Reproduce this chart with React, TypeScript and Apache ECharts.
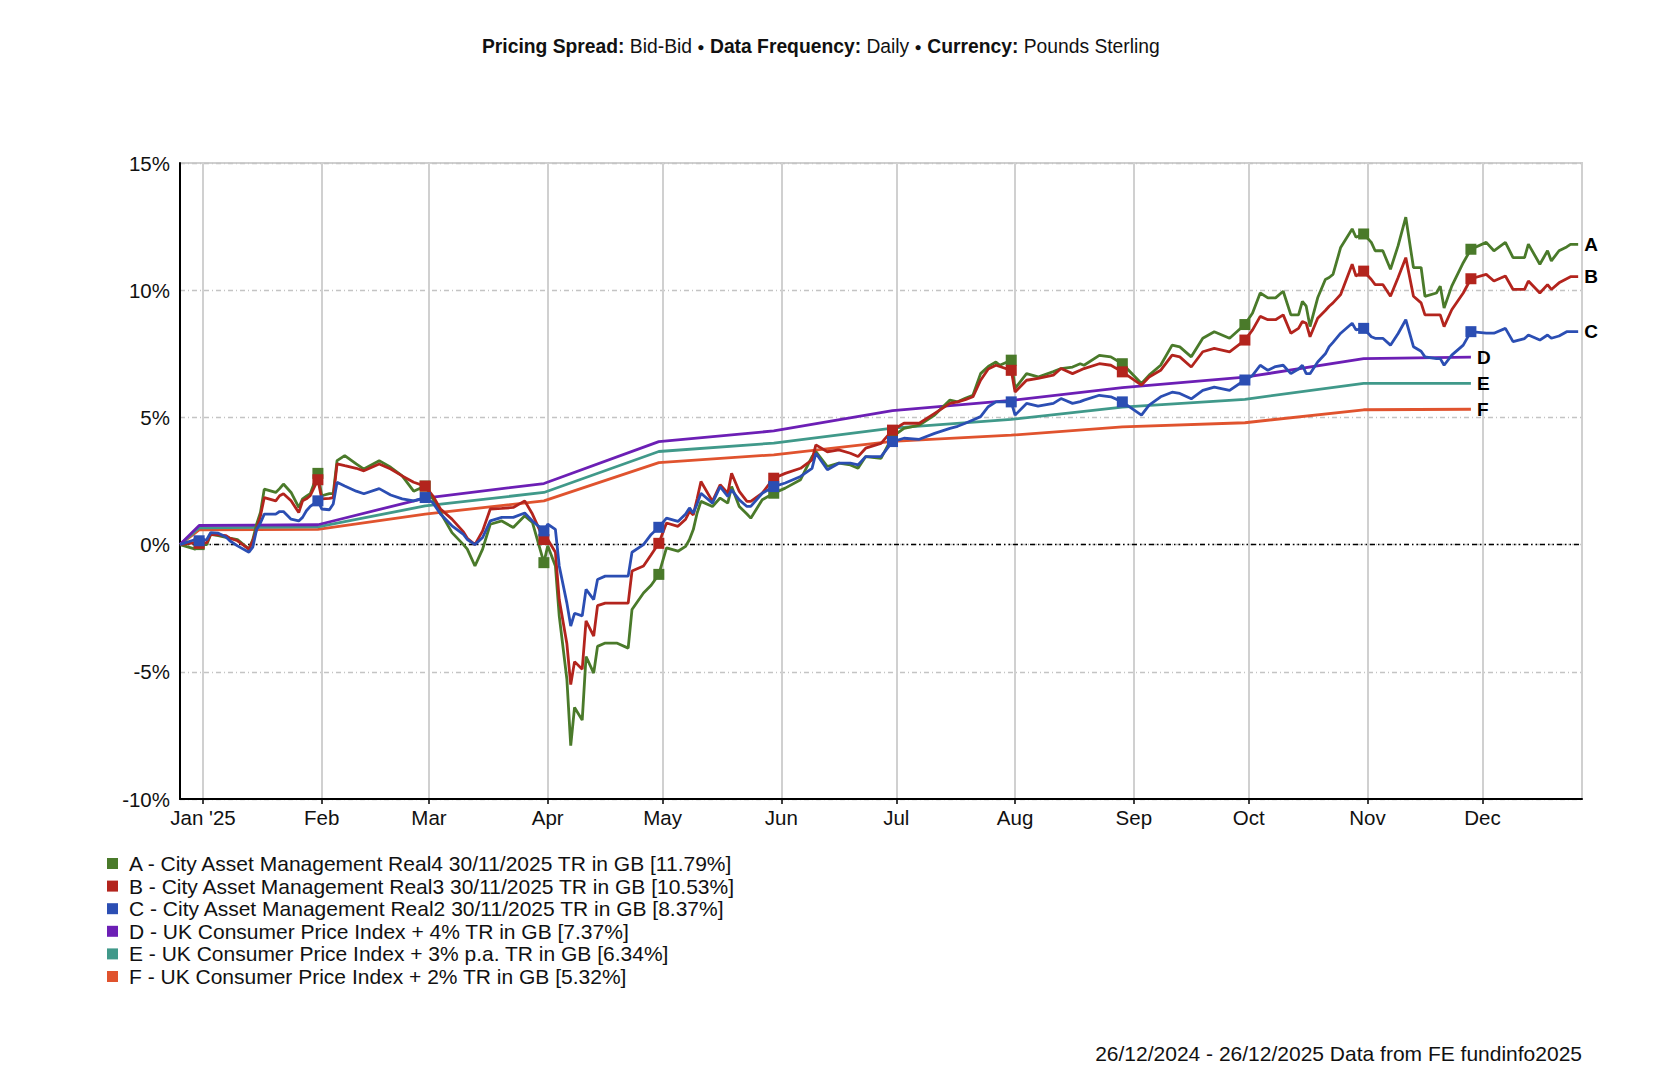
import React, { useEffect, useRef } from "react";
import * as echarts from "echarts";

const FONT = "'Liberation Sans', Arial, Helvetica, sans-serif";

const seriesNames = [
  "A - City Asset Management Real4 30/11/2025 TR in GB [11.79%]",
  "B - City Asset Management Real3 30/11/2025 TR in GB [10.53%]",
  "C - City Asset Management Real2 30/11/2025 TR in GB [8.37%]",
  "D - UK Consumer Price Index + 4% TR in GB [7.37%]",
  "E - UK Consumer Price Index + 3% p.a. TR in GB [6.34%]",
  "F - UK Consumer Price Index + 2% TR in GB [5.32%]",
];
const seriesLetters = ["A", "B", "C", "D", "E", "F"];
const seriesColors = ["#4a7a2a", "#b3241d", "#2b4eb3", "#6c1fb5", "#40998a", "#e0532e"];

const monthLabels = ["Jan '25", "Feb", "Mar", "Apr", "May", "Jun", "Jul", "Aug", "Sep", "Oct", "Nov", "Dec"];

const fundDates = [
  "2024-12-26", "2024-12-30", "2024-12-31", "2025-01-02", "2025-01-03", "2025-01-05", "2025-01-07", "2025-01-08", "2025-01-10", "2025-01-13", "2025-01-14", "2025-01-15", "2025-01-16", "2025-01-17", "2025-01-20", "2025-01-21", "2025-01-22", "2025-01-24", "2025-01-26", "2025-01-27", "2025-01-28", "2025-01-29", "2025-01-31",
  "2025-02-01", "2025-02-03", "2025-02-04", "2025-02-05", "2025-02-07", "2025-02-10", "2025-02-12", "2025-02-16", "2025-02-19", "2025-02-22", "2025-02-25", "2025-02-28",
  "2025-03-02", "2025-03-04", "2025-03-07", "2025-03-10", "2025-03-11", "2025-03-13", "2025-03-15", "2025-03-17", "2025-03-20", "2025-03-23", "2025-03-26", "2025-03-28", "2025-03-31",
  "2025-04-01", "2025-04-03", "2025-04-04", "2025-04-06", "2025-04-07", "2025-04-08", "2025-04-10", "2025-04-11", "2025-04-13", "2025-04-14", "2025-04-16", "2025-04-19", "2025-04-22", "2025-04-23", "2025-04-26", "2025-04-28", "2025-04-30",
  "2025-05-02", "2025-05-05", "2025-05-07", "2025-05-08", "2025-05-09", "2025-05-10", "2025-05-11", "2025-05-14", "2025-05-16", "2025-05-18", "2025-05-19", "2025-05-21", "2025-05-23", "2025-05-24", "2025-05-27", "2025-05-30",
  "2025-06-02", "2025-06-06", "2025-06-09", "2025-06-10", "2025-06-13", "2025-06-16", "2025-06-19", "2025-06-21", "2025-06-23", "2025-06-27", "2025-06-30",
  "2025-07-03", "2025-07-07", "2025-07-11", "2025-07-15", "2025-07-17", "2025-07-19", "2025-07-21", "2025-07-23", "2025-07-25", "2025-07-27", "2025-07-28", "2025-07-31",
  "2025-08-01", "2025-08-04", "2025-08-07", "2025-08-11", "2025-08-13", "2025-08-16", "2025-08-18", "2025-08-19", "2025-08-23", "2025-08-26", "2025-08-29",
  "2025-09-03", "2025-09-05", "2025-09-08", "2025-09-11", "2025-09-13", "2025-09-16", "2025-09-19", "2025-09-22", "2025-09-26", "2025-09-30",
  "2025-10-02", "2025-10-04", "2025-10-06", "2025-10-08", "2025-10-10", "2025-10-12", "2025-10-14", "2025-10-15", "2025-10-16", "2025-10-17", "2025-10-19", "2025-10-21", "2025-10-22", "2025-10-23", "2025-10-25", "2025-10-28", "2025-10-29", "2025-10-31",
  "2025-11-02", "2025-11-03", "2025-11-05", "2025-11-07", "2025-11-09", "2025-11-11", "2025-11-13", "2025-11-15", "2025-11-16", "2025-11-19", "2025-11-20", "2025-11-21", "2025-11-23", "2025-11-26", "2025-11-28",
  "2025-12-02", "2025-12-04", "2025-12-07", "2025-12-09", "2025-12-12", "2025-12-13", "2025-12-16", "2025-12-18", "2025-12-19", "2025-12-21", "2025-12-23", "2025-12-24", "2025-12-26",
];

const fundA = [
  0, -0.18, 0.0, 0.0, 0.4, 0.35, 0.28, 0.25, 0.2, -0.18, 0.2, 0.8, 1.26, 2.18, 2.05, 2.2, 2.38, 2.05, 1.46, 1.8, 1.9, 2.0, 2.8,
  1.92, 2.0, 2.0, 3.3, 3.5, 3.17, 2.97, 3.3, 3.04, 2.7, 2.1, 2.3,
  1.8, 1.26, 0.47, 0.0, -0.18, -0.84, -0.18, 0.8, 0.93, 0.67, 1.13, 0.87, -0.71,
  -0.05, -0.84, -2.8, -5.3, -7.9, -6.4, -6.9, -4.4, -5.05, -4.0, -3.87, -3.87, -4.07, -2.55, -1.9, -1.6, -1.17,
  -0.13, -0.26, -0.07, 0.2, 0.59, 1.24, 1.7, 1.5, 1.83, 1.63, 2.28, 1.5, 1.2, 1.04, 1.76, 2.02,
  2.22, 2.55, 3.46, 3.66, 3.07, 3.2, 3.13, 3.0, 3.46, 3.39, 4.24,
  4.57, 4.7, 5.09, 5.68, 5.61, 5.75, 5.87, 6.72, 7.0, 7.18, 7.05, 7.25,
  6.14, 6.72, 6.59, 6.8, 6.92, 6.98, 7.11, 7.05, 7.44, 7.38, 7.11,
  6.33, 6.66, 7.05, 7.84, 7.77, 7.38, 8.11, 8.37, 8.11, 8.65,
  9.1, 9.89, 9.7, 9.7, 9.96, 9.03, 9.03, 9.56, 9.37, 8.57, 9.7, 10.42, 10.5, 10.62, 11.68, 12.41, 12.08, 12.21,
  11.88, 11.55, 11.55, 10.82, 11.75, 12.87, 10.89, 10.89, 9.76, 9.89, 10.16, 9.3, 10.16, 11.08, 11.61,
  11.88, 11.55, 11.88, 11.28, 11.28, 11.81, 11.02, 11.55, 11.15, 11.55, 11.7, 11.8, 11.8,
];

const fundB = [
  0, 0.08, 0.05, 0.08, 0.4, 0.38, 0.35, 0.25, 0.15, -0.18, 0.15, 0.6, 1.13, 1.85, 1.72, 1.92, 2.0, 1.72, 1.26, 1.72, 1.8, 1.92, 2.55,
  1.8, 1.82, 1.85, 3.17, 3.1, 3.0, 2.9, 3.17, 2.97, 2.7, 2.45, 2.3,
  1.92, 1.4, 1.0, 0.5, 0.25, 0.0, 0.54, 1.4, 1.42, 1.46, 1.72, 1.2, 0.2,
  0.2, -0.3, -2.16, -3.9, -5.5, -4.6, -4.9, -3.0, -3.6, -2.4, -2.3, -2.3, -2.3, -1.04, -0.84, -0.4, 0.05,
  0.85, 0.72, 1.0, 1.3, 1.17, 1.8, 2.48, 1.7, 2.35, 2.02, 2.8, 2.09, 1.7, 1.7, 2.02, 2.61,
  2.8, 3.0, 3.33, 3.92, 3.65, 3.72, 3.59, 3.46, 3.79, 3.98, 4.5,
  4.77, 4.77, 5.16, 5.55, 5.61, 5.7, 5.81, 6.46, 6.9, 7.05, 7.0, 6.85,
  6.0, 6.46, 6.53, 6.66, 6.92, 6.72, 6.85, 6.92, 7.11, 7.05, 6.79,
  6.27, 6.59, 6.85, 7.45, 7.38, 6.98, 7.58, 7.71, 7.58, 8.04,
  8.44, 8.97, 8.84, 8.84, 9.03, 8.31, 8.5, 8.77, 8.7, 8.17, 8.9, 9.2, 9.37, 9.5, 9.83, 11.02, 10.56, 10.75,
  10.42, 10.22, 10.22, 9.76, 10.5, 11.28, 9.76, 9.5, 9.03, 9.03, 9.03, 8.57, 9.23, 9.89, 10.45,
  10.62, 10.36, 10.56, 10.03, 10.03, 10.36, 9.89, 10.22, 10.03, 10.29, 10.45, 10.53, 10.53,
];

const fundC = [
  0, 0.2, 0.15, 0.2, 0.47, 0.45, 0.3, 0.15, -0.05, -0.3, -0.1, 0.6, 0.85, 1.2, 1.2, 1.3, 1.3, 1.0, 0.93, 1.07, 1.33, 1.5, 1.72,
  1.4, 1.37, 1.6, 2.45, 2.3, 2.1, 2.0, 2.2, 1.95, 1.8, 1.72, 1.85,
  1.65, 1.2, 0.74, 0.4, 0.2, 0.0, 0.28, 0.93, 1.07, 1.07, 1.24, 0.93, 0.54,
  0.8, 0.6, -0.84, -2.3, -3.2, -2.7, -2.8, -1.76, -2.16, -1.37, -1.24, -1.24, -1.24, -0.3, 0.0, 0.4, 0.68,
  1.04, 0.91, 1.2, 1.44, 1.24, 1.6, 2.02, 1.63, 2.28, 1.89, 2.15, 1.76, 1.5, 1.5, 2.02, 2.28,
  2.42, 2.68, 3.0, 3.59, 2.94, 3.2, 3.2, 3.13, 3.46, 3.46, 4.05,
  4.18, 4.14, 4.37, 4.57, 4.65, 4.77, 4.9, 5.03, 5.42, 5.61, 5.61, 5.61,
  5.09, 5.55, 5.44, 5.55, 5.74, 5.55, 5.62, 5.68, 5.87, 5.81, 5.61,
  5.09, 5.48, 5.81, 5.99, 5.94, 5.73, 6.06, 6.19, 6.06, 6.47,
  6.65, 7.05, 6.85, 7.0, 7.05, 6.72, 6.9, 7.05, 6.72, 6.72, 7.18, 7.5, 7.78, 7.95, 8.31, 8.7, 8.44, 8.5,
  8.17, 8.11, 8.11, 7.84, 8.3, 8.84, 7.78, 7.6, 7.38, 7.31, 7.31, 7.05, 7.45, 7.84, 8.37,
  8.31, 8.31, 8.5, 7.98, 8.1, 8.24, 8.04, 8.24, 8.11, 8.2, 8.37, 8.37, 8.37,
];

const benchDates = [
  "2024-12-26", "2024-12-31", "2025-01-31", "2025-02-28", "2025-03-31", "2025-04-30", "2025-05-30",
  "2025-06-30", "2025-07-31", "2025-08-29", "2025-09-30", "2025-10-31", "2025-11-28",
];
const benchD = [0, 0.75, 0.78, 1.83, 2.4, 4.05, 4.47, 5.27, 5.67, 6.17, 6.58, 7.31, 7.37];
const benchE = [0, 0.66, 0.7, 1.52, 2.05, 3.66, 3.99, 4.58, 4.92, 5.4, 5.71, 6.34, 6.34];
const benchF = [0, 0.58, 0.6, 1.2, 1.72, 3.22, 3.53, 4.06, 4.3, 4.63, 4.79, 5.3, 5.32];

const markerDates = [
  "2024-12-31", "2025-01-31", "2025-02-28", "2025-03-31", "2025-04-30", "2025-05-30",
  "2025-06-30", "2025-07-31", "2025-08-29", "2025-09-30", "2025-10-31", "2025-11-28",
];

const axisStart = "2024-12-26";
const axisEnd = "2025-12-27";
const footerText = "26/12/2024 - 26/12/2025 Data from FE fundinfo2025";

const toTime = (s: string) => {
  const [y, m, d] = s.split("-").map(Number);
  return Date.UTC(y, m - 1, d);
};

function fundData(values: number[]) {
  const n = Math.min(values.length, fundDates.length);
  const out: any[] = [];
  for (let i = 0; i < n; i++) {
    const isMarker = markerDates.indexOf(fundDates[i]) >= 0;
    out.push({
      value: [toTime(fundDates[i]), values[i]],
      symbol: isMarker ? "rect" : "none",
      symbolSize: isMarker ? 11 : 0,
    });
  }
  return out;
}

function benchData(values: number[]) {
  return benchDates.map((d, i) => [toTime(d), values[i]]);
}

export default function App() {
  const ref = useRef<HTMLDivElement>(null);

  useEffect(() => {
    if (!ref.current) return;
    const chart = echarts.init(ref.current, undefined, { renderer: "svg" });

    const endLabel = (letter: string) => ({
      show: true,
      formatter: letter,
      color: "#000",
      fontWeight: "bold",
      fontSize: 19,
      fontFamily: FONT,
      distance: 6,
    });

    const benchSeries = (idx: number, values: number[], z: number, extra: any = {}) => ({
      name: seriesNames[idx],
      type: "line",
      data: benchData(values),
      symbol: "none",
      showSymbol: false,
      z,
      lineStyle: { color: seriesColors[idx], width: 2.8 },
      itemStyle: { color: seriesColors[idx] },
      endLabel: endLabel(seriesLetters[idx]),
      emphasis: { disabled: true },
      ...extra,
    });

    const fundSeries = (idx: number, values: number[], z: number) => ({
      name: seriesNames[idx],
      type: "line",
      data: fundData(values),
      symbol: "rect",
      showSymbol: true,
      showAllSymbol: true,
      z,
      lineStyle: { color: seriesColors[idx], width: 2.8 },
      itemStyle: { color: seriesColors[idx] },
      endLabel: endLabel(seriesLetters[idx]),
      emphasis: { disabled: true },
    });

    const option: any = {
      animation: false,
      useUTC: true,
      backgroundColor: "#ffffff",
      textStyle: { fontFamily: FONT },
      title: {
        left: 477,
        top: 32,
        text: "{b|Pricing Spread:} Bid-Bid {d|●} {b|Data Frequency:} Daily {d|●} {b|Currency:} Pounds Sterling",
        textStyle: {
          fontFamily: FONT,
          fontSize: 19.3,
          fontWeight: "normal",
          color: "#111",
          rich: {
            b: { fontFamily: FONT, fontSize: 19.3, fontWeight: "bold", color: "#111" },
            d: { fontFamily: FONT, fontSize: 12, color: "#111" },
          },
        },
      },
      grid: {
        left: 180,
        right: 98,
        top: 163,
        bottom: 281,
        show: true,
        borderColor: "#cfcfcf",
        borderWidth: 2,
        containLabel: false,
      },
      legend: {
        orient: "vertical",
        left: 102,
        top: 848,
        icon: "rect",
        itemWidth: 11,
        itemHeight: 11,
        itemGap: 1.6,
        selectedMode: false,
        data: seriesNames,
        textStyle: {
          fontFamily: FONT,
          fontSize: 21,
          color: "#111",
          lineHeight: 21,
          padding: [0, 0, 0, 6],
        },
      },
      xAxis: {
        type: "time",
        min: toTime(axisStart),
        max: toTime(axisEnd),
        splitNumber: 12,
        minInterval: 28 * 86400000,
        maxInterval: 31 * 86400000,
        axisLine: { show: true, onZero: false, lineStyle: { color: "#000", width: 2 } },
        axisTick: { show: true, length: 5, lineStyle: { color: "#000", width: 1.5 } },
        axisLabel: {
          fontFamily: FONT,
          fontSize: 20.5,
          color: "#111",
          margin: 8,
          showMinLabel: false,
          showMaxLabel: false,
          hideOverlap: false,
          formatter: (v: number) => {
            const d = new Date(v);
            if (d.getUTCDate() !== 1) return "";
            return monthLabels[d.getUTCMonth()];
          },
        },
        splitLine: { show: true, lineStyle: { color: "#d0d0d0", width: 2 } },
      },
      yAxis: {
        type: "value",
        min: -10,
        max: 15,
        interval: 5,
        axisLine: { show: true, lineStyle: { color: "#000", width: 2 } },
        axisTick: { show: false },
        axisLabel: {
          fontFamily: FONT,
          fontSize: 20.5,
          color: "#111",
          margin: 10,
          formatter: "{value}%",
        },
        splitLine: { show: true, lineStyle: { color: "#c4c4c4", width: 1.3, type: [5, 3, 1, 3] } },
      },
      series: [
        benchSeries(5, benchF, 2, {
          markLine: {
            silent: true,
            symbol: "none",
            label: { show: false },
            lineStyle: { color: "#000", width: 1.4, type: [5, 3, 1.5, 3, 1.5, 3] },
            data: [{ yAxis: 0 }],
          },
        }),
        benchSeries(4, benchE, 3),
        benchSeries(3, benchD, 4),
        fundSeries(0, fundA, 5),
        fundSeries(1, fundB, 6),
        fundSeries(2, fundC, 7),
      ],
      graphic: [
        {
          type: "text",
          right: 98,
          top: 1043,
          style: {
            text: footerText,
            fontFamily: FONT,
            fontSize: 21,
            fill: "#111",
          },
        },
      ],
    };

    chart.setOption(option);
    return () => chart.dispose();
  }, []);

  return (
    <div
      ref={ref}
      style={{ position: "fixed", left: 0, top: 0, width: 1680, height: 1080, background: "#fff" }}
    />
  );
}
